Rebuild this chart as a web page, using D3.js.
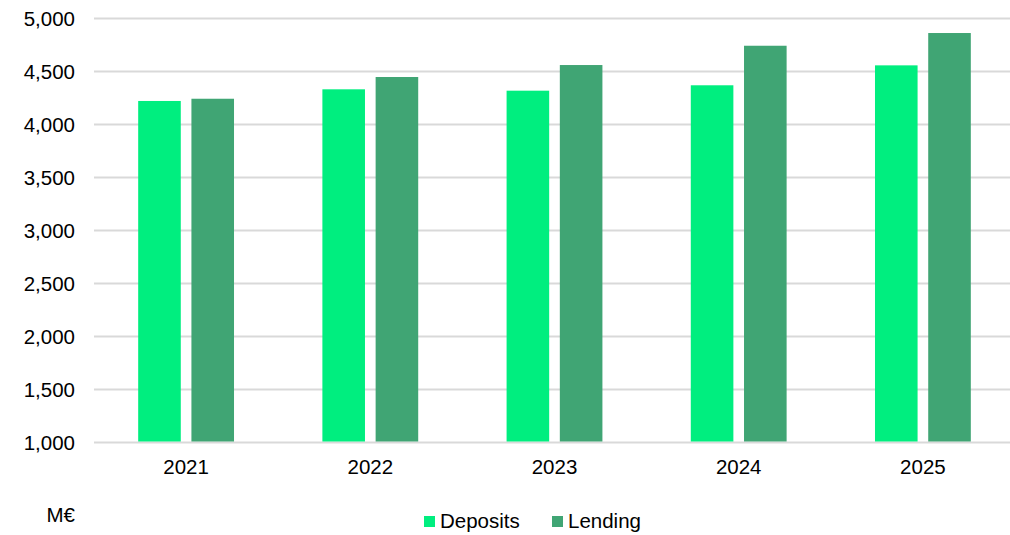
<!DOCTYPE html>
<html>
<head>
<meta charset="utf-8">
<style>
  html, body { margin: 0; padding: 0; background: #fff; overflow: hidden; }
  svg { display: block; font-family: "Liberation Sans", Arial, sans-serif; }
</style>
</head>
<body>
<svg width="1010" height="535"></svg>
<script src="https://cdn.jsdelivr.net/npm/d3@7"></script>
<script>

var years = ["2021", "2022", "2023", "2024", "2025"];
var deposits = [4222, 4332, 4319, 4370, 4558];
var lending = [4243, 4448, 4561, 4743, 4863];
var yTicks = [1000, 1500, 2000, 2500, 3000, 3500, 4000, 4500, 5000];
var seriesNames = ["Deposits", "Lending"];
var colors = ["#00ee7f", "#40a574"];

var svg = d3.select("svg");

var x = d3.scaleBand()
    .domain(years)
    .range([94, 1015]);

var inner = d3.scaleBand()
    .domain(seriesNames)
    .range([0, x.bandwidth()])
    .paddingInner(0.2)
    .paddingOuter(0.83);

var y = d3.scaleLinear()
    .domain([1000, 5000])
    .range([442.5, 18.5]);

// gridlines
svg.append("g")
  .selectAll("line")
  .data(yTicks)
  .enter().append("line")
    .attr("x1", 94)
    .attr("x2", 1015)
    .attr("y1", function(d) { return y(d); })
    .attr("y2", function(d) { return y(d); })
    .attr("stroke", "#d9d9d9")
    .attr("stroke-width", 2);

// y axis labels
var yAxis = d3.axisLeft(y)
    .tickValues(yTicks)
    .tickSize(0)
    .tickPadding(0)
    .tickFormat(d3.format(",d"));

svg.append("g")
    .attr("transform", "translate(75,0)")
    .call(yAxis)
    .call(function(g) { g.select(".domain").remove(); })
    .selectAll("text")
      .attr("font-size", 20.5)
      .attr("font-family", "Liberation Sans, Arial, sans-serif")
      .attr("fill", "#000");

// bars
var data = years.map(function(yr, i) {
  return { year: yr, values: [deposits[i], lending[i]] };
});

var groups = svg.append("g")
  .selectAll("g")
  .data(data)
  .enter().append("g")
    .attr("transform", function(d) { return "translate(" + x(d.year) + ",0)"; });

groups.selectAll("rect")
  .data(function(d) { return d.values.map(function(v, j) { return { name: seriesNames[j], value: v, c: colors[j] }; }); })
  .enter().append("rect")
    .attr("x", function(d) { return inner(d.name); })
    .attr("width", inner.bandwidth())
    .attr("y", function(d) { return y(d.value); })
    .attr("height", function(d) { return y(1000) - y(d.value) - 1; })
    .attr("fill", function(d) { return d.c; });

// x axis labels
var xAxis = d3.axisBottom(x).tickSize(0).tickPadding(0);
svg.append("g")
    .attr("transform", "translate(0,459)")
    .call(xAxis)
    .call(function(g) { g.select(".domain").remove(); })
    .selectAll("text")
      .attr("font-size", 20.5)
      .attr("font-family", "Liberation Sans, Arial, sans-serif")
      .attr("fill", "#000");

// unit label
svg.append("text")
    .attr("x", 75)
    .attr("y", 522)
    .attr("text-anchor", "end")
    .attr("font-size", 20.5)
    .text("M€");

// legend
var legend = svg.append("g")
  .selectAll("g")
  .data(seriesNames)
  .enter().append("g")
    .attr("transform", function(d, i) { return "translate(" + [424, 552][i] + ",0)"; });

legend.append("rect")
    .attr("x", 0)
    .attr("y", 516)
    .attr("width", 11)
    .attr("height", 11)
    .attr("fill", function(d, i) { return colors[i]; });

legend.append("text")
    .attr("x", 16)
    .attr("y", 528)
    .attr("font-size", 20.5)
    .text(function(d) { return d; });

</script>
</body>
</html>
